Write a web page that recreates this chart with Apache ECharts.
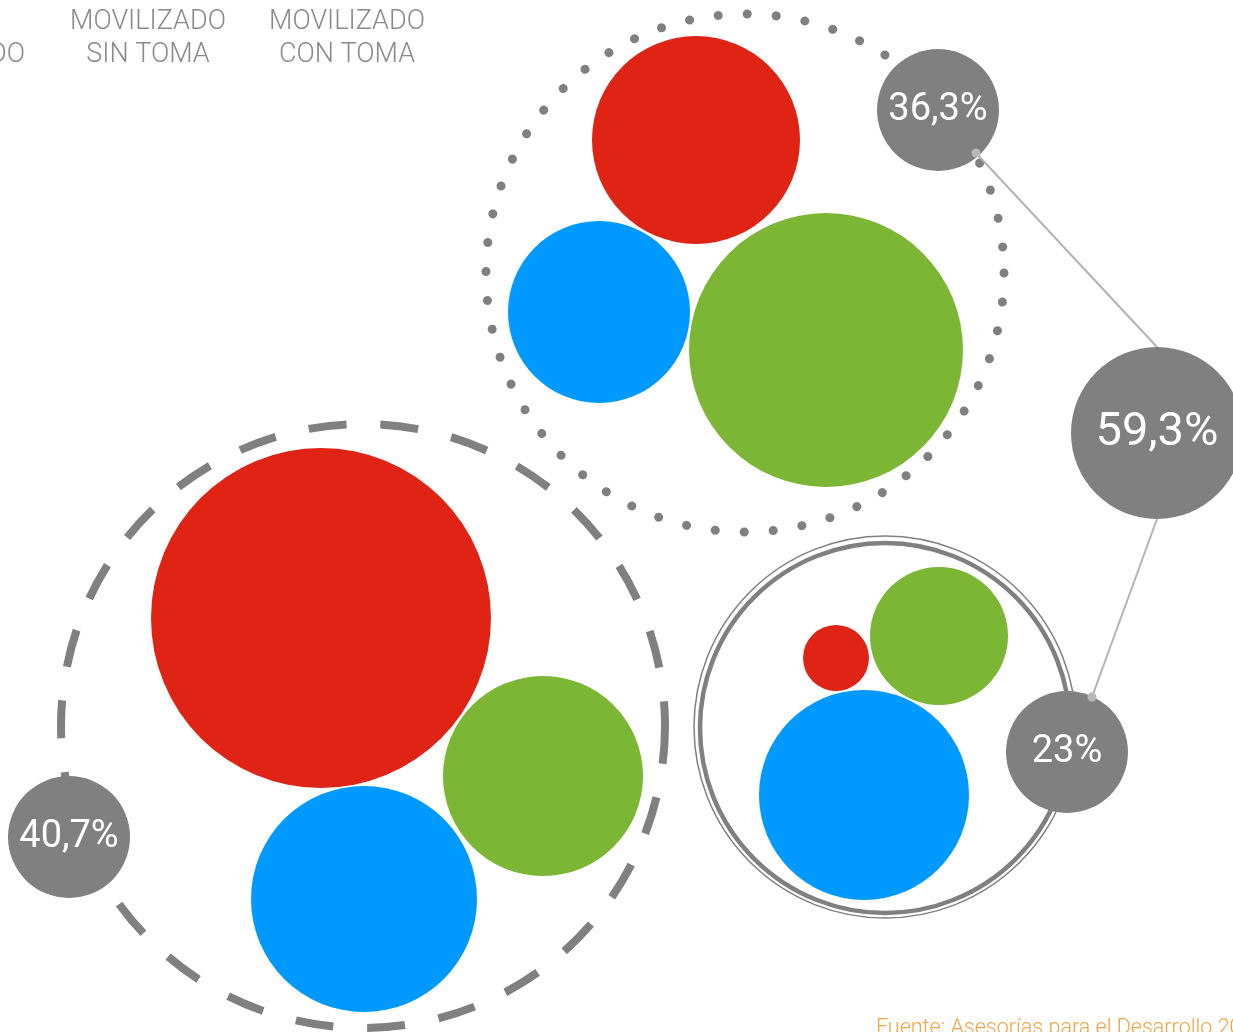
<!DOCTYPE html>
<html>
<head>
<meta charset="utf-8">
<script src="https://cdn.jsdelivr.net/npm/echarts@6/dist/echarts.min.js"></script>
<style>
  html, body { margin: 0; padding: 0; background: #fff; }
  #chart { width: 1233px; height: 1032px; }
</style>
</head>
<body>
<div id="chart"></div>
<script>
// Encabezados de columna (el primero queda recortado a la izquierda)
const columnas = ['NO\nMOVILIZADO', 'MOVILIZADO\nSIN TOMA', 'MOVILIZADO\nCON TOMA'];
const columnasX = [-53, 148, 347];

// Burbujas de cada grupo: [x, y, diámetro] en unidades del lienzo
const rojos  = [[696, 140, 208], [321, 618, 340], [836, 658, 66]];
const azules = [[599, 312, 182], [364, 899, 226], [864, 795, 210]];
const verdes = [[826, 350, 274], [543, 776, 200], [939, 636, 138]];

// Contornos de los tres grupos
const grupoPunteado    = [[745, 273, 518]];
const grupoDiscontinuo = [[363, 726, 604]];
const grupoDobleExt    = [[885, 727, 382]];
const grupoDobleInt    = [[885, 728, 370]];

// Porcentajes y burbujas grises
const porcentajes = ['36,3%', '40,7%', '23%', '59,3%'];
const burbujasGrises = [[938, 110, 122], [69, 837, 122], [1067, 752, 122], [1157, 433, 172]];

// Conectores entre burbujas grises
const conector1 = [[976, 153], [1157, 347]];
const conector2 = [[1157, 519], [1092, 697]];
const puntosConector = [[976, 153], [1092, 697]];

const fuente = 'Fuente: Asesorías para el Desarrollo 2016';

const GRIS = '#808080';
const chart = echarts.init(document.getElementById('chart'));

// serie de burbujas rellenas
function burbujas(name, data, color, z) {
    return {
        name: name,
        type: 'scatter',
        z: z,
        silent: true,
        data: data,
        symbolSize: d => d[2],
        itemStyle: { color: color, opacity: 1 }
    };
}

// serie de contorno (solo borde)
function contorno(name, data, width, type, cap) {
    return {
        name: name,
        type: 'scatter',
        z: 1,
        silent: true,
        data: data,
        symbolSize: d => d[2],
        itemStyle: {
            color: 'rgba(0,0,0,0)',
            opacity: 1,
            borderColor: GRIS,
            borderWidth: width,
            borderType: type,
            borderCap: cap
        }
    };
}

function conector(data) {
    return {
        type: 'line',
        z: 3,
        silent: true,
        data: data,
        symbol: 'none',
        lineStyle: { color: '#b3b3b3', width: 2 }
    };
}

const option = {
    animation: false,
    grid: { left: 0, right: 0, top: 0, bottom: 0 },
    xAxis: { type: 'value', min: 0, max: 1233, show: false },
    yAxis: { type: 'value', min: 0, max: 1032, inverse: true, show: false },
    graphic: columnas.map((txt, i) => ({
        type: 'text',
        x: columnasX[i],
        y: 6,
        style: {
            text: txt,
            fill: '#8a8a8a',
            font: '300 27px Roboto, sans-serif',
            align: 'center',
            lineHeight: 33
        }
    })).concat([{
        type: 'text',
        x: 876,
        y: 1018,
        style: {
            text: fuente,
            fill: '#f5a445',
            font: '300 21.5px Roboto, sans-serif'
        }
    }]),
    series: [
        contorno('punteado', grupoPunteado, 9, [0.1, 29], 'round'),
        contorno('discontinuo', grupoDiscontinuo, 8, [38, 34], 'butt'),
        contorno('doble ext', grupoDobleExt, 1.5, 'solid', 'butt'),
        contorno('doble int', grupoDobleInt, 4.5, 'solid', 'butt'),
        burbujas('rojo', rojos, '#df2416', 2),
        burbujas('azul', azules, '#0099ff', 2),
        burbujas('verde', verdes, '#7bb635', 2),
        conector(conector1),
        conector(conector2),
        {
            name: 'porcentajes',
            type: 'scatter',
            z: 4,
            silent: true,
            data: burbujasGrises.map((d, i) => ({ value: d, name: porcentajes[i] })),
            symbolSize: d => d[2],
            itemStyle: { color: GRIS, opacity: 1 },
            label: {
                show: true,
                position: 'inside',
                formatter: p => p.name,
                color: '#fff',
                fontFamily: 'Roboto',
                fontSize: 38
            }
        },
        {
            type: 'scatter',
            z: 5,
            silent: true,
            data: puntosConector,
            symbolSize: 9,
            itemStyle: { color: '#b8b8b8', opacity: 1 }
        }
    ]
};

// la burbuja mayor lleva un texto más grande
option.series[9].data[3].label = { fontSize: 47 };

chart.setOption(option);
</script>
</body>
</html>
